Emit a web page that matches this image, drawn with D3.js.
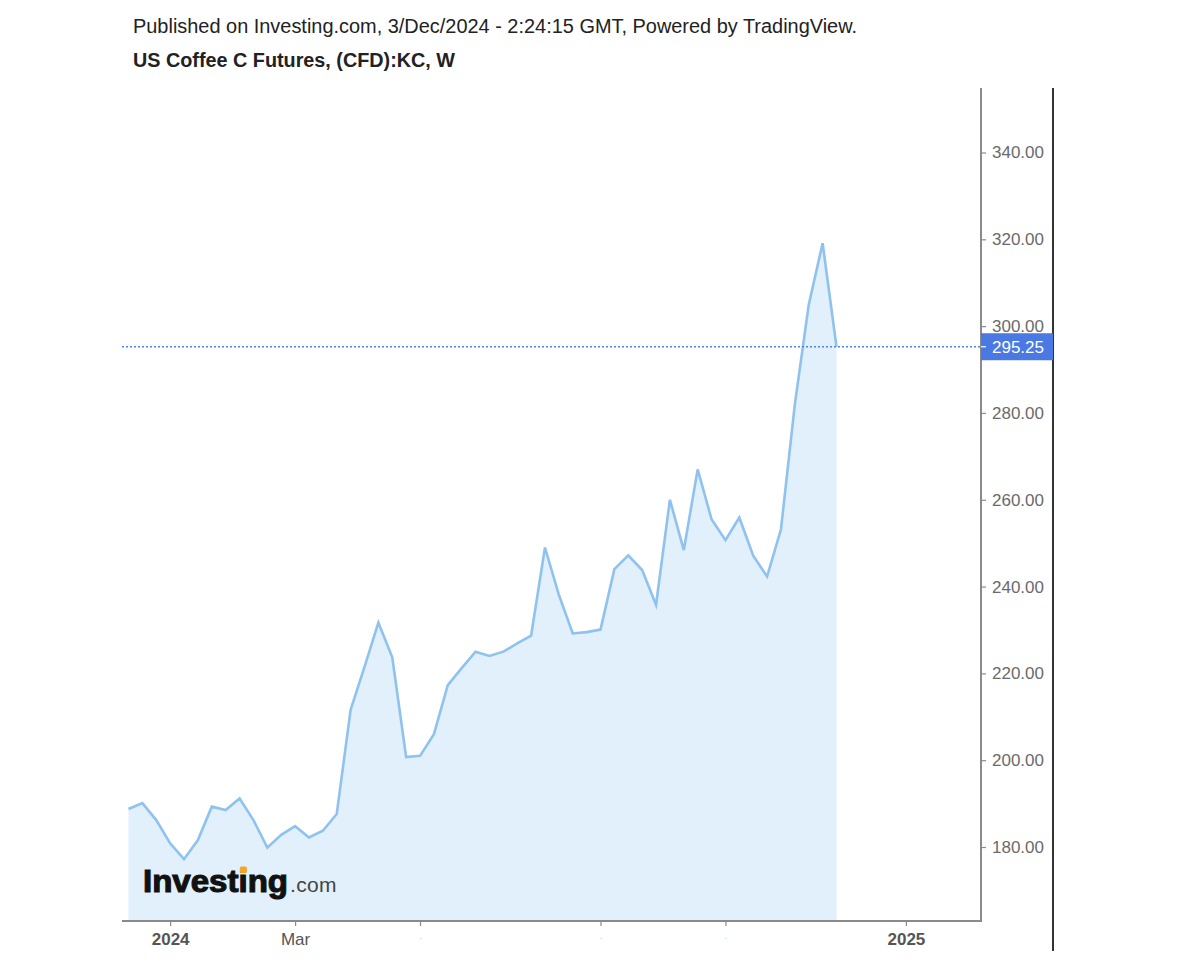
<!DOCTYPE html>
<html>
<head>
<meta charset="utf-8">
<script src="https://cdn.jsdelivr.net/npm/d3@7"></script>
<style>
  html, body { margin: 0; padding: 0; background: #fff; }
  svg { display: block; font-family: "Liberation Sans", Arial, sans-serif; }
</style>
</head>
<body>
<svg id="chart" width="1200" height="960"></svg>
<script>
// ---- data ----
const weekDates = [
  "2023-12-11","2023-12-18","2023-12-25","2024-01-01","2024-01-08","2024-01-15","2024-01-22","2024-01-29",
  "2024-02-05","2024-02-12","2024-02-19","2024-02-26","2024-03-04","2024-03-11","2024-03-18","2024-03-25",
  "2024-04-01","2024-04-08","2024-04-15","2024-04-22","2024-04-29","2024-05-06","2024-05-13","2024-05-20",
  "2024-05-27","2024-06-03","2024-06-10","2024-06-17","2024-06-24","2024-07-01","2024-07-08","2024-07-15",
  "2024-07-22","2024-07-29","2024-08-05","2024-08-12","2024-08-19","2024-08-26","2024-09-02","2024-09-09",
  "2024-09-16","2024-09-23","2024-09-30","2024-10-07","2024-10-14","2024-10-21","2024-10-28","2024-11-04",
  "2024-11-11","2024-11-18","2024-11-25","2024-12-02"
];
const closeValues = [
  188.75, 190.1, 186.2, 180.85, 177.2, 181.6, 189.3, 188.5, 191.2, 186.2, 179.85, 182.8, 184.8,
  182.2, 183.75, 187.6, 211.6, 221.5, 231.7, 223.7, 200.7, 201.0, 206.0, 217.3, 221.2, 225.0,
  224.0, 225.0, 226.9, 228.7, 249.0, 238.1, 229.2, 229.5, 230.1, 244.0, 247.2, 243.8, 235.8,
  260.0, 248.4, 267.0, 255.5, 250.7, 255.9, 247.1, 242.3, 253.2, 282.0, 304.9, 319.1, 295.25
];
const lastPrice = 295.25;
const yTickValues = [180, 200, 220, 240, 260, 280, 300, 320, 340];
const xTickDates = ["2024-01-01","2024-03-04","2024-05-06","2024-08-05","2024-10-07","2025-01-06"];
const xTickLabels = ["2024","Mar",".",".",".","2025"];
const xTickBold = [true,false,false,false,false,true];
const titleLine1 = "Published on Investing.com, 3/Dec/2024 - 2:24:15 GMT, Powered by TradingView.";
const titleLine2 = "US Coffee C Futures, (CFD):KC, W";

// ---- layout ----
const plotLeft = 122, plotRight = 981, plotTop = 88, plotBottom = 921;
const outerAxisX = 1053;

const parse = d3.utcParse("%Y-%m-%d");
const data = weekDates.map((d, i) => ({ date: parse(d), value: closeValues[i] }));

const x = d3.scaleUtc()
  .domain([parse(weekDates[0]), parse(weekDates[weekDates.length - 1])])
  .range([128.5, 836.5]);
const y = d3.scaleLinear().domain([180, 340]).range([847, 152.5]);

const svg = d3.select("#chart");

// titles
svg.append("text").attr("x", 133).attr("y", 33)
  .attr("font-size", 19.5).attr("fill", "#222")
  .attr("textLength", 724).attr("lengthAdjust", "spacingAndGlyphs")
  .text(titleLine1);
svg.append("text").attr("x", 133).attr("y", 67)
  .attr("font-size", 19.5).attr("font-weight", "bold").attr("fill", "#222")
  .attr("textLength", 322).attr("lengthAdjust", "spacingAndGlyphs")
  .text(titleLine2);

// area
const area = d3.area()
  .x(d => x(d.date))
  .y0(plotBottom)
  .y1(d => y(d.value));
svg.append("path").datum(data)
  .attr("d", area)
  .attr("fill", "#e1f0fa");

// logo
const logo = svg.append("g");
const invText = logo.append("text")
  .attr("x", 143).attr("y", 892)
  .attr("font-size", 31).attr("font-weight", "bold")
  .attr("fill", "#111").attr("stroke", "#111").attr("stroke-width", 1.1)
  .attr("textLength", 145).attr("lengthAdjust", "spacingAndGlyphs")
  .text("Investing");
logo.append("text")
  .attr("x", 290).attr("y", 892)
  .attr("font-size", 21).attr("fill", "#444")
  .attr("letter-spacing", 0.3)
  .text(".com");
try {
  const ext = invText.node().getExtentOfChar(6);
  logo.append("rect")
    .attr("x", ext.x + ext.width / 2 - 3.2).attr("y", 866.5)
    .attr("width", 7).attr("height", 6.5).attr("rx", 1.5)
    .attr("fill", "#f5a623");
} catch (e) {}

// line
const line = d3.line().x(d => x(d.date)).y(d => y(d.value));
svg.append("path").datum(data)
  .attr("d", line)
  .attr("fill", "none")
  .attr("stroke", "#8fc2ef")
  .attr("stroke-width", 2.6)
  .attr("stroke-linejoin", "miter");

// last price dotted line
svg.append("line")
  .attr("x1", plotLeft).attr("x2", plotRight)
  .attr("y1", y(lastPrice)).attr("y2", y(lastPrice))
  .attr("stroke", "#4f82ee").attr("stroke-width", 1.3)
  .attr("stroke-dasharray", "2,2");

// borders
svg.append("line").attr("x1", plotRight).attr("x2", plotRight)
  .attr("y1", plotTop).attr("y2", plotBottom + 1)
  .attr("stroke", "#8a8a8a").attr("stroke-width", 2);
svg.append("line").attr("x1", plotLeft).attr("x2", plotRight + 1)
  .attr("y1", plotBottom).attr("y2", plotBottom)
  .attr("stroke", "#8a8a8a").attr("stroke-width", 2);
svg.append("line").attr("x1", outerAxisX).attr("x2", outerAxisX)
  .attr("y1", plotTop).attr("y2", 951)
  .attr("stroke", "#333").attr("stroke-width", 2);

// y axis
const yAxis = d3.axisRight(y)
  .tickValues(yTickValues)
  .tickFormat(d3.format(".2f"))
  .tickSize(5).tickPadding(6);
const gy = svg.append("g").attr("transform", `translate(${plotRight},0)`).call(yAxis);
gy.select(".domain").remove();
gy.selectAll(".tick line").attr("stroke", "#8a8a8a").attr("stroke-width", 1.2);
gy.selectAll(".tick text")
  .attr("font-family", "Liberation Sans, Arial, sans-serif")
  .attr("font-size", 17).attr("fill", "#6a6a6a");

// price label
const py = y(lastPrice);
svg.append("rect")
  .attr("x", plotRight).attr("y", py - 13.5)
  .attr("width", outerAxisX - plotRight).attr("height", 27)
  .attr("fill", "#4a79e3");
svg.append("line")
  .attr("x1", plotRight).attr("x2", plotRight + 5)
  .attr("y1", py).attr("y2", py)
  .attr("stroke", "#fff").attr("stroke-width", 1.2);
svg.append("text")
  .attr("x", plotRight + 11).attr("y", py + 6)
  .attr("font-size", 17).attr("fill", "#fff")
  .text(d3.format(".2f")(lastPrice));

// x axis
const xAxis = d3.axisBottom(x)
  .tickValues(xTickDates.map(parse))
  .tickFormat((d, i) => xTickLabels[i])
  .tickSize(5).tickPadding(7);
const gx = svg.append("g").attr("transform", `translate(0,${plotBottom})`).call(xAxis);
gx.select(".domain").remove();
gx.selectAll(".tick line").attr("stroke", "#8a8a8a").attr("stroke-width", 1.2);
gx.selectAll(".tick text")
  .attr("font-family", "Liberation Sans, Arial, sans-serif")
  .attr("font-size", (d, i) => xTickLabels[i] === "." ? 8 : 17)
  .attr("font-weight", (d, i) => xTickBold[i] ? "bold" : "normal")
  .attr("fill", (d, i) => xTickLabels[i] === "." ? "#aaa" : "#555");
</script>
</body>
</html>
